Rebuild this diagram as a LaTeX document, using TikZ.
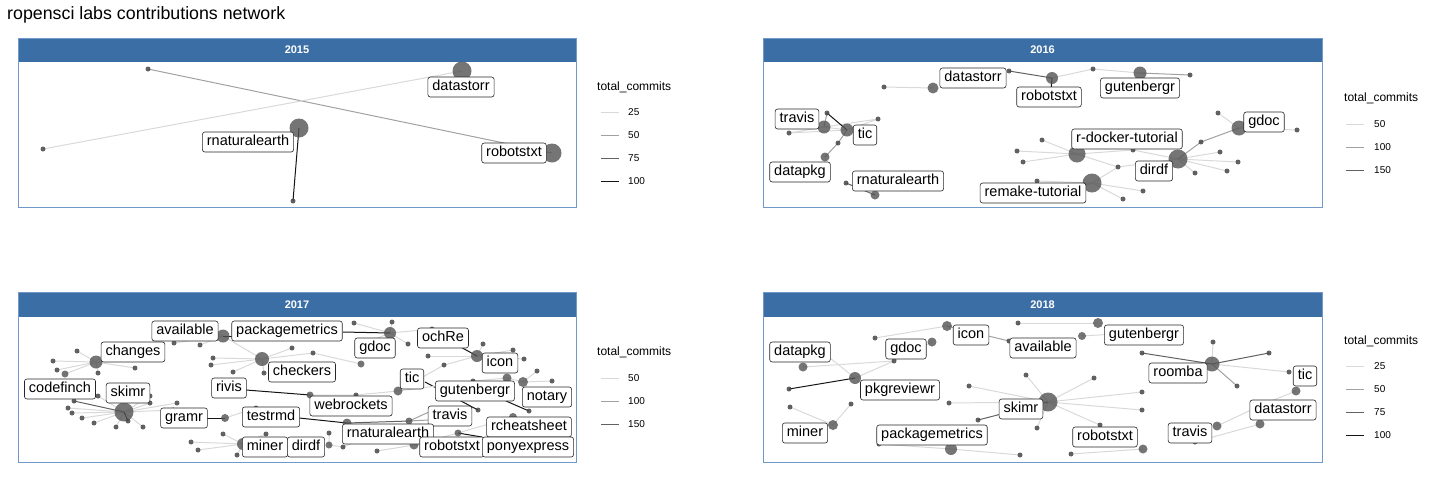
\documentclass[tikz,border=0pt]{standalone}
\usepackage{fontspec}
\setmainfont{Liberation Sans}
\usetikzlibrary{backgrounds}
\definecolor{stripblue}{RGB}{58,110,165}
\definecolor{frameblue}{RGB}{112,152,200}
\tikzset{
	dot/.style={circle, fill=black!72, fill opacity=.85, inner sep=0pt, minimum size=5pt},
	hub/.style={circle, fill=black!68, fill opacity=.8, inner sep=0pt, minimum size=#1},
	lbl/.style={draw=black!85, fill=white, rounded corners=2.5pt, line width=.6pt, font=\fontsize{14.5}{15}\selectfont, inner xsep=4.5pt, inner ysep=0pt, text height=10.5pt, text depth=3.2pt, minimum height=20pt},
	strip/.style={fill=stripblue, text=white, font=\fontsize{11}{12}\selectfont\bfseries, minimum width=559pt, minimum height=24.5pt, inner sep=0pt},
	frame/.style={draw=frameblue, line width=.8pt},
	e1/.style={draw=black!15, line width=1pt},
	e2/.style={draw=black!37, line width=1pt},
	e3/.style={draw=black!62, line width=1pt},
	e4/.style={draw=black!92, line width=1pt},
	keytitle/.style={anchor=west, inner sep=0pt, font=\fontsize{12}{13}\selectfont},
	keytext/.style={anchor=west, inner sep=0pt, font=\fontsize{10}{11}\selectfont}
}

\begin{document}
\begin{tikzpicture}[x=1pt,y=-1pt]
	\useasboundingbox (0,0) rectangle (1440,480);
	\node[anchor=west, inner sep=0pt, font=\fontsize{17.8}{20}\selectfont] (title) at (7,15) {ropensci labs contributions network};

	% 2015
	\node[strip] (y15) at (297,50) {2015};
	\draw[frame] (18,38) rectangle (576,207);
	\node[hub=19] (ds15) at (462,71) {};
	\node[hub=19] (rn15) at (299,128) {};
	\node[hub=19] (rb15) at (552,153) {};
	\node[dot] (a15) at (148,69) {};
	\node[dot] (b15) at (43,149) {};
	\node[dot] (c15) at (293,201) {};
	\begin{scope}[on background layer]
		\draw[e2] (a15.center) -- (rb15.center);
		\draw[e1] (b15.center) -- (ds15.center);
		\draw[e4] (rn15.center) -- (c15.center);
	\end{scope}
	\node[lbl] (ds15l) at (461,87) {datastorr};
	\node[lbl] (rn15l) at (248,142) {rnaturalearth};
	\node[lbl] (rb15l) at (514,153) {robotstxt};
	\node[keytitle] (k15) at (597,87) {total\_commits};
	\draw[e1] (601,112) -- (619,112); \node[keytext] (k15a) at (628,112) {25};
	\draw[e2] (601,135) -- (619,135); \node[keytext] (k15b) at (628,135) {50};
	\draw[e3] (601,158) -- (619,158); \node[keytext] (k15c) at (628,158) {75};
	\draw[e4] (601,181) -- (619,181); \node[keytext] (k15d) at (628,181) {100};

	% 2016
	\node[strip] (y16) at (1042.5,50) {2016};
	\draw[frame] (763,38) rectangle (1322,207);
	\node[hub=11] (ds16) at (933,88) {};
	\node[hub=12] (rb16) at (1052,78) {};
	\node[hub=13] (gu16) at (1140,73) {};
	\node[hub=13] (tr16) at (824,127) {};
	\node[hub=13] (ti16) at (847,130) {};
	\node[hub=9] (dp16) at (825,157) {};
	\node[hub=9] (rn16) at (875,195) {};
	\node[hub=17] (rd16) at (1077,154) {};
	\node[hub=19] (di16) at (1178,159) {};
	\node[hub=15] (gd16) at (1239,128) {};
	\node[hub=19] (rm16) at (1092,183) {};
	\node[dot] (s16a) at (884,87) {};
	\node[dot] (s16b) at (1009,71) {};
	\node[dot] (s16c) at (1093,69) {};
	\node[dot] (s16d) at (1190,75) {};
	\node[dot] (s16e) at (827,113) {};
	\node[dot] (s16f) at (878,119) {};
	\node[dot] (s16g) at (789,133) {};
	\node[dot] (s16h) at (838,143) {};
	\node[dot] (s16i) at (846,183) {};
	\node[dot] (s16j) at (1042,140) {};
	\node[dot] (s16k) at (1017,151) {};
	\node[dot] (s16l) at (1023,162) {};
	\node[dot] (s16m) at (1133,150) {};
	\node[dot] (s16n) at (1201,142) {};
	\node[dot] (s16o) at (1220,152) {};
	\node[dot] (s16p) at (1238,162) {};
	\node[dot] (s16q) at (1227,171) {};
	\node[dot] (s16r) at (1195,173) {};
	\node[dot] (s16s) at (1118,167) {};
	\node[dot] (s16t) at (1218,113) {};
	\node[dot] (s16u) at (1297,130) {};
	\node[dot] (s16v) at (1272,116) {};
	\node[dot] (s16w) at (1037,181) {};
	\node[dot] (s16x) at (1143,191) {};
	\node[dot] (s16y) at (1123,199) {};
	\node[dot] (s16z) at (1052,198) {};
	\coordinate (h16a) at (1051,90);
	\begin{scope}[on background layer]
		\draw[e1] (s16a.center) -- (ds16.center);
		\draw[e1] (rb16.center) -- (s16c.center) -- (gu16.center);
		\draw[e1] (tr16.center) -- (ti16.center);
		\draw[e1] (s16g.center) -- (tr16.center) -- (s16f.center) -- (ti16.center) -- (s16g.center);
		\draw[e1] (rd16.center) -- (s16j.center);
		\draw[e1] (rd16.center) -- (s16k.center);
		\draw[e1] (rd16.center) -- (s16l.center);
		\draw[e1] (rd16.center) -- (s16m.center) -- (di16.center);
		\draw[e1] (rd16.center) -- (s16s.center);
		\draw[e1] (di16.center) -- (s16o.center);
		\draw[e1] (di16.center) -- (s16p.center);
		\draw[e1] (di16.center) -- (s16q.center);
		\draw[e1] (di16.center) -- (s16r.center);
		\draw[e1] (di16.center) -- (s16s.center) -- (rm16.center);
		\draw[e1] (gd16.center) -- (s16t.center);
		\draw[e1] (gd16.center) -- (s16u.center);
		\draw[e1] (gd16.center) -- (s16v.center);
		\draw[e1] (rm16.center) -- (s16w.center);
		\draw[e1] (rm16.center) -- (s16x.center);
		\draw[e1] (rm16.center) -- (s16y.center);
		\draw[e1] (rm16.center) -- (s16z.center);
		\draw[e2] (gu16.center) -- (s16d.center);
		\draw[e2] (di16.center) -- (s16n.center) -- (gd16.center);
		\draw[e2] (tr16.center) -- (s16e.center);
		\draw[e2] (ti16.center) -- (s16h.center) -- (dp16.center);
		\draw[e3] (s16b.center) -- (rb16.center);
		\draw[e3] (s16i.center) -- (rn16.center);
		\draw[e4] (s16e.center) -- (ti16.center);
		\draw[e4] (rb16.center) -- (h16a);
	\end{scope}
	\node[lbl] (ds16l) at (973,78) {datastorr};
	\node[lbl] (rb16l) at (1049,97) {robotstxt};
	\node[lbl] (gu16l) at (1140,88) {gutenbergr};
	\node[lbl] (tr16l) at (797,119) {travis};
	\node[lbl] (ti16l) at (865,135) {tic};
	\node[lbl] (dp16l) at (800,172) {datapkg};
	\node[lbl] (rn16l) at (898,181) {rnaturalearth};
	\node[lbl] (rd16l) at (1127,139) {r-docker-tutorial};
	\node[lbl] (gd16l) at (1264,122) {gdoc};
	\node[lbl] (di16l) at (1154,171) {dirdf};
	\node[lbl] (rm16l) at (1033,193) {remake-tutorial};
	\node[keytitle] (k16) at (1344,98) {total\_commits};
	\draw[e1] (1346,124) -- (1364,124); \node[keytext] (k16a) at (1374,124) {50};
	\draw[e2] (1346,147) -- (1364,147); \node[keytext] (k16b) at (1374,147) {100};
	\draw[e3] (1346,170) -- (1364,170); \node[keytext] (k16c) at (1374,170) {150};

	% 2017
	\node[strip] (y17) at (297,304.5) {2017};
	\draw[frame] (18,292) rectangle (576,462);
	\node[hub=13] (ch17) at (96,362) {};
	\node[hub=7] (cf17) at (65,374) {};
	\node[hub=19] (sk17) at (124,412) {};
	\node[hub=8] (gr17) at (225,418) {};
	\node[hub=13] (av17) at (223,336) {};
	\node[hub=12] (pm17) at (390,333) {};
	\node[hub=14] (ck17) at (262,359) {};
	\node[hub=7] (gd17) at (361,364) {};
	\node[hub=12] (ic17) at (477,356) {};
	\node[hub=9] (ti17) at (398,391) {};
	\node[hub=9] (gu17) at (507,378) {};
	\node[hub=10] (no17) at (523,382) {};
	\node[hub=7] (rv17) at (310,395) {};
	\node[hub=9] (wb17) at (347,423) {};
	\node[hub=7] (tv17) at (409,421) {};
	\node[hub=8] (rn17) at (366,438) {};
	\node[hub=8] (rc17) at (513,417) {};
	\node[hub=9] (rb17) at (414,445) {};
	\node[hub=7] (px17) at (458,433) {};
	\node[hub=7] (di17) at (329,445) {};
	\node[hub=12] (mi17) at (243,444) {};
	\node[dot] (nt17) at (529,411) {};
	\node[dot] (tx17) at (478,410) {};
	\node[dot] (s17a) at (77,351) {};
	\node[dot] (s17b) at (53,361) {};
	\node[dot] (s17c) at (57,370) {};
	\node[dot] (s17d) at (98,373) {};
	\node[dot] (s17e) at (135,368) {};
	\node[dot] (s17f) at (108,347) {};
	\node[dot] (s17g) at (74,401) {};
	\node[dot] (s17h) at (68,408) {};
	\node[dot] (s17i) at (72,413) {};
	\node[dot] (s17j) at (82,418) {};
	\node[dot] (s17k) at (94,423) {};
	\node[dot] (s17l) at (116,427) {};
	\node[dot] (s17m) at (143,427) {};
	\node[dot] (s17n) at (150,403) {};
	\node[dot] (s17o) at (177,403) {};
	\node[dot] (s17p) at (173,410) {};
	\node[dot] (s17q) at (150,396) {};
	\node[dot] (s17r) at (98,396) {};
	\node[dot] (s17s) at (128,421) {};
	\node[dot] (s17t) at (256,408) {};
	\node[dot] (s17u) at (174,343) {};
	\node[dot] (s17v) at (200,345) {};
	\node[dot] (s17w) at (192,326) {};
	\node[dot] (s17x) at (354,323) {};
	\node[dot] (s17y) at (392,322) {};
	\node[dot] (s17z) at (408,344) {};
	\node[dot] (t17a) at (432,329) {};
	\node[dot] (t17b) at (213,358) {};
	\node[dot] (t17c) at (211,365) {};
	\node[dot] (t17d) at (233,372) {};
	\node[dot] (t17e) at (264,373) {};
	\node[dot] (t17f) at (292,348) {};
	\node[dot] (t17g) at (313,353) {};
	\node[dot] (t17h) at (365,343) {};
	\node[dot] (t17i) at (483,344) {};
	\node[dot] (t17j) at (513,350) {};
	\node[dot] (t17k) at (524,359) {};
	\node[dot] (t17l) at (444,365) {};
	\node[dot] (t17m) at (428,356) {};
	\node[dot] (t17n) at (537,371) {};
	\node[dot] (t17o) at (552,381) {};
	\node[dot] (t17p) at (473,381) {};
	\node[dot] (t17q) at (356,395) {};
	\node[dot] (t17r) at (343,447) {};
	\node[dot] (t17s) at (377,451) {};
	\node[dot] (t17t) at (329,433) {};
	\node[dot] (t17u) at (191,442) {};
	\node[dot] (t17v) at (198,450) {};
	\node[dot] (t17w) at (223,434) {};
	\node[dot] (t17x) at (237,455) {};
	\node[dot] (t17y) at (266,434) {};
	\node[dot] (t17z) at (277,454) {};
	\coordinate (h17a) at (207,418);
	\coordinate (h17b) at (299,418);
	\coordinate (h17c) at (429,412);
	\coordinate (h17d) at (429,420);
	\coordinate (h17e) at (246,390);
	\coordinate (h17f) at (425,382);
	\coordinate (h17g) at (506,401);
	\coordinate (h17h) at (482,437);
	\coordinate (h17i) at (233,336);
	\coordinate (h17j) at (343,332);
	\coordinate (h17k) at (457,345);
	\begin{scope}[on background layer]
		\foreach \s in {s17a,s17b,s17c,s17d,s17e,s17f,cf17}
			\draw[e1] (ch17.center) -- (\s.center);
		\foreach \s in {s17h,s17i,s17j,s17k,s17l,s17m,s17n,s17o,s17p,s17q,s17r}
			\draw[e1] (sk17.center) -- (\s.center);
		\foreach \s in {t17u,t17v,t17w,t17x,t17y,t17z}
			\draw[e1] (mi17.center) -- (\s.center);
		\foreach \s in {t17b,t17c,t17d,t17e,t17f,t17g,av17}
			\draw[e1] (ck17.center) -- (\s.center);
		\foreach \s in {s17u,s17v,s17w}
			\draw[e1] (av17.center) -- (\s.center);
		\foreach \s in {s17x,s17y,s17z,t17a,t17h}
			\draw[e1] (pm17.center) -- (\s.center);
		\foreach \s in {t17i,t17j,t17k,t17l,t17m}
			\draw[e1] (ic17.center) -- (\s.center);
		\draw[e3] (s17g.center) -- (sk17.center);
		\draw[e4] (sk17.center) -- (s17s.center);
		\draw[e4] (h17a) -- (gr17.center);
		\draw[e1] (gr17.center) -- (s17t.center);
		\draw[e4] (h17b) -- (wb17.center);
		\draw[e3] (wb17.center) -- (tv17.center);
		\draw[e2] (h17c) -- (tv17.center) -- (h17d);
		\draw[e4] (h17e) -- (rv17.center);
		\draw[e1] (rv17.center) -- (t17q.center) -- (ti17.center);
		\draw[e4] (h17f) -- (tx17.center);
		\draw[e1] (ti17.center) -- (t17l.center);
		\draw[e1] (ti17.center) -- (t17p.center) -- (gu17.center) -- (no17.center);
		\draw[e1] (no17.center) -- (t17n.center);
		\draw[e1] (no17.center) -- (t17o.center);
		\draw[e4] (h17g) -- (nt17.center);
		\draw[e1] (rc17.center) -- (px17.center);
		\draw[e4] (px17.center) -- (h17h);
		\draw[e1] (t17s.center) -- (rb17.center) -- (px17.center);
		\draw[e1] (wb17.center) -- (rn17.center) -- (t17r.center);
		\draw[e1] (t17t.center) -- (di17.center) -- (t17r.center);
		\draw[e4] (av17.center) -- (h17i);
		\draw[e4] (h17j) -- (pm17.center);
		\draw[e1] (t17g.center) -- (gd17.center);
		\draw[e4] (h17k) -- (ic17.center);
	\end{scope}
	\node[lbl] (av17l) at (185,331) {available};
	\node[lbl] (pm17l) at (287,331) {packagemetrics};
	\node[lbl] (ch17l) at (133,352) {changes};
	\node[lbl] (gd17l) at (375,348) {gdoc};
	\node[lbl] (oc17l) at (443,338) {ochRe};
	\node[lbl] (ic17l) at (500,363) {icon};
	\node[lbl] (ck17l) at (302,372) {checkers};
	\node[lbl] (ti17l) at (412,379) {tic};
	\node[lbl] (rv17l) at (229,388) {rivis};
	\node[lbl] (cf17l) at (60,389) {codefinch};
	\node[lbl] (sk17l) at (128,393) {skimr};
	\node[lbl] (gu17l) at (475,391) {gutenbergr};
	\node[lbl] (no17l) at (547,397) {notary};
	\node[lbl] (wb17l) at (351,406) {webrockets};
	\node[lbl] (gr17l) at (184,418) {gramr};
	\node[lbl] (te17l) at (271,417) {testrmd};
	\node[lbl] (tv17l) at (450,416) {travis};
	\node[lbl] (rc17l) at (529,427) {rcheatsheet};
	\node[lbl] (rn17l) at (388,434) {rnaturalearth};
	\node[lbl] (mi17l) at (265,447) {miner};
	\node[lbl] (di17l) at (306,447) {dirdf};
	\node[lbl] (rb17l) at (452,447) {robotstxt};
	\node[lbl] (px17l) at (528,447) {ponyexpress};
	\node[keytitle] (k17) at (597,352) {total\_commits};
	\draw[e1] (601,378) -- (619,378); \node[keytext] (k17a) at (628,378) {50};
	\draw[e2] (601,401) -- (619,401); \node[keytext] (k17b) at (628,401) {100};
	\draw[e3] (601,424) -- (619,424); \node[keytext] (k17c) at (628,424) {150};

	% 2018
	\node[strip] (y18) at (1042.5,304.5) {2018};
	\draw[frame] (763,292) rectangle (1322,462);
	\node[hub=9] (dp18) at (803,367) {};
	\node[hub=10] (ic18) at (947,326) {};
	\node[hub=9] (gd18) at (932,342) {};
	\node[hub=12] (pk18) at (855,378) {};
	\node[hub=10] (mi18) at (833,425) {};
	\node[hub=19] (sk18) at (1048,402) {};
	\node[hub=12] (pm18) at (951,449) {};
	\node[hub=10] (gu18) at (1098,323) {};
	\node[hub=8] (av18) at (1082,336) {};
	\node[hub=15] (ro18) at (1212,364) {};
	\node[hub=9] (ti18) at (1296,391) {};
	\node[hub=9] (ds18) at (1260,424) {};
	\node[hub=9] (tv18) at (1217,426) {};
	\node[hub=9] (rb18) at (1143,449) {};
	\node[dot] (s18a) at (825,354) {};
	\node[dot] (s18b) at (875,338) {};
	\node[dot] (s18c) at (1018,323) {};
	\node[dot] (s18d) at (1009,341) {};
	\node[dot] (s18e) at (894,361) {};
	\node[dot] (s18f) at (789,389) {};
	\node[dot] (s18g) at (790,407) {};
	\node[dot] (s18h) at (851,404) {};
	\node[dot] (s18i) at (969,386) {};
	\node[dot] (s18j) at (949,403) {};
	\node[dot] (s18k) at (978,420) {};
	\node[dot] (s18l) at (1026,375) {};
	\node[dot] (s18m) at (1037,428) {};
	\node[dot] (s18n) at (1094,378) {};
	\node[dot] (s18o) at (1142,392) {};
	\node[dot] (s18p) at (1142,410) {};
	\node[dot] (s18q) at (1100,425) {};
	\node[dot] (s18r) at (879,444) {};
	\node[dot] (s18t) at (1020,455) {};
	\node[dot] (s18u) at (1163,331) {};
	\node[dot] (s18v) at (1213,342) {};
	\node[dot] (s18w) at (1142,353) {};
	\node[dot] (s18x) at (1269,353) {};
	\node[dot] (s18y) at (1289,372) {};
	\node[dot] (s18z) at (1237,386) {};
	\node[dot] (t18a) at (1195,442) {};
	\node[dot] (t18b) at (1071,454) {};
	\coordinate (h18a) at (1266,403);
	\begin{scope}[on background layer]
		\draw[e1] (s18b.center) -- (ic18.center);
		\draw[e2] (ic18.center) -- (s18d.center);
		\draw[e1] (s18c.center) -- (gu18.center);
		\draw[e1] (av18.center) -- (s18u.center);
		\draw[e1] (dp18.center) -- (s18e.center);
		\draw[e1] (s18a.center) -- (pk18.center) -- (s18e.center) -- (gd18.center);
		\draw[e4] (s18f.center) -- (pk18.center);
		\draw[e1] (s18g.center) -- (mi18.center) -- (s18h.center);
		\foreach \s in {s18i,s18j,s18l,s18m,s18n,s18o,s18p,s18q}
			\draw[e1] (sk18.center) -- (\s.center);
		\draw[e3] (sk18.center) -- (s18k.center);
		\draw[e1] (s18r.center) -- (pm18.center) -- (s18t.center);
		\draw[e1] (ro18.center) -- (s18v.center);
		\draw[e1] (ro18.center) -- (s18y.center);
		\draw[e3] (ro18.center) -- (s18w.center);
		\draw[e3] (ro18.center) -- (s18x.center);
		\draw[e2] (ro18.center) -- (s18z.center);
		\draw[e1] (ti18.center) -- (h18a) -- (tv18.center);
		\draw[e1] (t18a.center) -- (ds18.center);
		\draw[e1] (rb18.center) -- (t18b.center);
	\end{scope}
	\node[lbl] (dp18l) at (800,352) {datapkg};
	\node[lbl] (ic18l) at (971,335) {icon};
	\node[lbl] (gd18l) at (906,349) {gdoc};
	\node[lbl] (av18l) at (1043,348) {available};
	\node[lbl] (gu18l) at (1144,335) {gutenbergr};
	\node[lbl] (pk18l) at (900,390) {pkgreviewr};
	\node[lbl] (ro18l) at (1178,373) {roomba};
	\node[lbl] (ti18l) at (1305,376) {tic};
	\node[lbl] (sk18l) at (1021,409) {skimr};
	\node[lbl] (ds18l) at (1283,410) {datastorr};
	\node[lbl] (mi18l) at (805,433) {miner};
	\node[lbl] (pm18l) at (932,435) {packagemetrics};
	\node[lbl] (rb18l) at (1105,437) {robotstxt};
	\node[lbl] (tv18l) at (1190,433) {travis};
	\node[keytitle] (k18) at (1344,341) {total\_commits};
	\draw[e1] (1346,366) -- (1364,366); \node[keytext] (k18a) at (1374,366) {25};
	\draw[e2] (1346,389) -- (1364,389); \node[keytext] (k18b) at (1374,389) {50};
	\draw[e3] (1346,412) -- (1364,412); \node[keytext] (k18c) at (1374,412) {75};
	\draw[e4] (1346,435) -- (1364,435); \node[keytext] (k18d) at (1374,435) {100};
\end{tikzpicture}
\end{document}
